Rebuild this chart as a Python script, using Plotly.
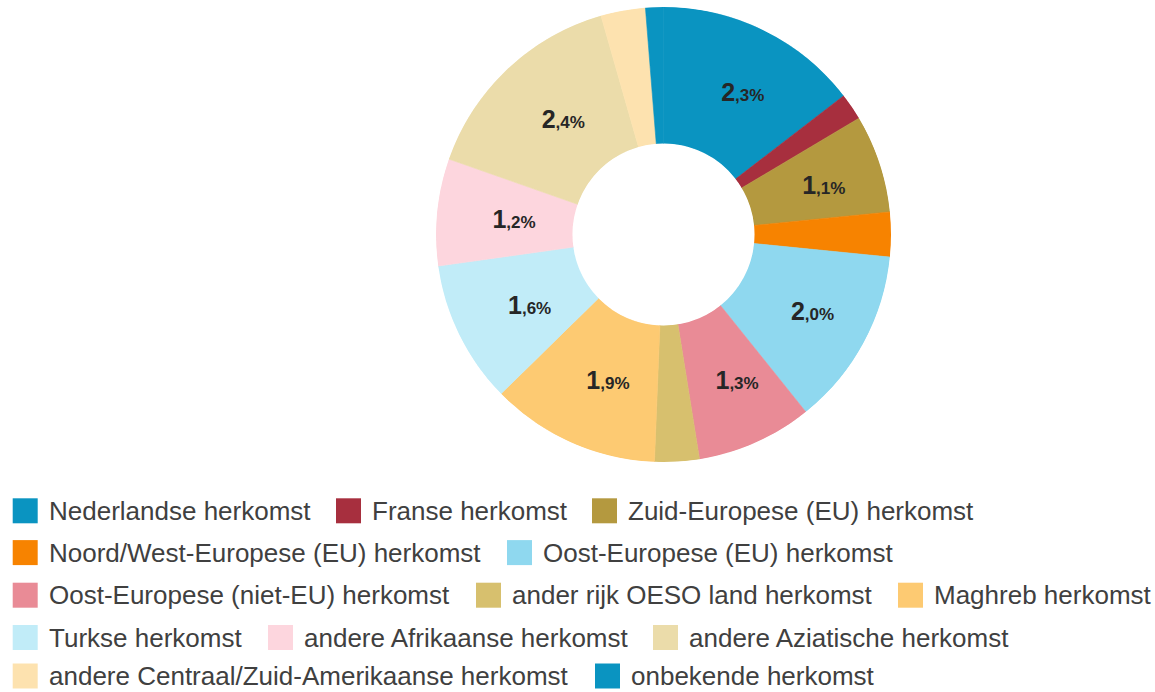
import math
import plotly.graph_objects as go

# ---- data ----
categories = [
    "Nederlandse herkomst",
    "Franse herkomst",
    "Zuid-Europese (EU) herkomst",
    "Noord/West-Europese (EU) herkomst",
    "Oost-Europese (EU) herkomst",
    "Oost-Europese (niet-EU) herkomst",
    "ander rijk OESO land herkomst",
    "Maghreb herkomst",
    "Turkse herkomst",
    "andere Afrikaanse herkomst",
    "andere Aziatische herkomst",
    "andere Centraal/Zuid-Amerikaanse herkomst",
    "onbekende herkomst",
]
values = [2.3, 0.3, 1.1, 0.5, 2.0, 1.3, 0.5, 1.9, 1.6, 1.2, 2.4, 0.5, 0.2]

# ---- styles ----
colors = [
    "#0a94c1", "#a72f3e", "#b4993f", "#f78300", "#8fd8ef", "#e98b96",
    "#d7c06e", "#fdca72", "#c1ecf8", "#fdd6de", "#ebdcaa", "#fde2af",
    "#0a94c1",
]
FONT = "Liberation Sans, Arial, Helvetica, sans-serif"
W, H = 1155, 692

# legend layout (rows of category indices and square left edges in px)
legend_rows = [[0, 1, 2], [3, 4], [5, 6, 7], [8, 9, 10], [11, 12]]
legend_x = [[12.7, 336, 592], [12.7, 507], [12.7, 476, 898], [12.7, 268, 653], [12.7, 595]]
legend_y = [510.8, 552.6, 595.2, 637.5, 676.0]
SQ = 25
TEXT_OFF = 35
HOLE = 0.4
LABEL_MID = 0.5            # middle of the ring (radial axis runs hole -> outer edge)
LABEL_SHIFT_PX = (9, 3)    # constant pixel nudge of the value labels (right, down)


def fmt(v):
    if v < 1:
        return ""
    s = f"{v:.1f}".split(".")
    return f"<b>{s[0]}<span style='font-size:17px'>,{s[1]}%</span></b>"


texts = [fmt(v) for v in values]

# angular extent of each slice (clockwise from 12 o'clock), derived from values
total = sum(values)
widths = [v / total * 360.0 for v in values]
mid_theta = []
acc = 0.0
for w in widths:
    mid_theta.append(acc + w / 2)
    acc += w

# donut geometry in px
cx, cy, R = 663.5, 234.5, 227.5
dom = dict(
    x=[(cx - R) / W, (cx + R) / W],
    y=[1 - (cy + R) / H, 1 - (cy - R) / H],
)

# label positions: ring middle at each slice's mid angle, plus constant nudge
lab_r, lab_t = [], []
rho0 = R * (HOLE + (1 - HOLE) * LABEL_MID)
for t in mid_theta:
    a = math.radians(t)
    x = rho0 * math.sin(a) + LABEL_SHIFT_PX[0]
    y = rho0 * math.cos(a) - LABEL_SHIFT_PX[1]  # y up
    rho = math.hypot(x, y)
    lab_r.append((rho / R - HOLE) / (1 - HOLE))
    lab_t.append(math.degrees(math.atan2(x, y)) % 360)

fig = go.Figure()
fig.add_trace(
    go.Barpolar(
        r=[1] * len(values),
        theta=mid_theta,
        width=widths,
        marker=dict(color=colors, line=dict(color=colors, width=0.6)),
        customdata=categories,
        hovertemplate="%{customdata}<extra></extra>",
        showlegend=False,
    )
)
fig.add_trace(
    go.Scatterpolar(
        r=lab_r,
        theta=lab_t,
        text=texts,
        mode="text",
        textposition="middle center",
        textfont=dict(family=FONT, size=25, color="#262626"),
        showlegend=False,
        hoverinfo="skip",
    )
)

shapes = []
annotations = []
for row, xs, yc in zip(legend_rows, legend_x, legend_y):
    for idx, x0 in zip(row, xs):
        shapes.append(
            dict(
                type="rect", xref="paper", yref="paper",
                x0=x0 / W, x1=(x0 + SQ) / W,
                y0=1 - (yc + SQ / 2) / H, y1=1 - (yc - SQ / 2) / H,
                fillcolor=colors[idx], line=dict(width=0),
            )
        )
        annotations.append(
            dict(
                text=categories[idx], xref="paper", yref="paper",
                x=(x0 + TEXT_OFF) / W, y=1 - yc / H,
                xanchor="left", yanchor="middle", showarrow=False,
                borderpad=0,
                font=dict(family=FONT, size=26, color="#404040"),
            )
        )

fig.update_layout(
    width=W, height=H,
    margin=dict(l=0, r=0, t=0, b=0),
    paper_bgcolor="white", plot_bgcolor="white",
    shapes=shapes, annotations=annotations,
    font=dict(family=FONT),
    polar=dict(
        domain=dom,
        hole=HOLE,
        bgcolor="rgba(0,0,0,0)",
        radialaxis=dict(range=[0, 1], visible=False, showgrid=False, showline=False),
        angularaxis=dict(rotation=90, direction="clockwise", visible=False,
                         showgrid=False, showline=False),
    ),
)

fig.write_html(
    "out.html",
    config={"displayModeBar": False},
    post_script="document.body.style.margin='0px';document.body.style.overflow='hidden';",
)
